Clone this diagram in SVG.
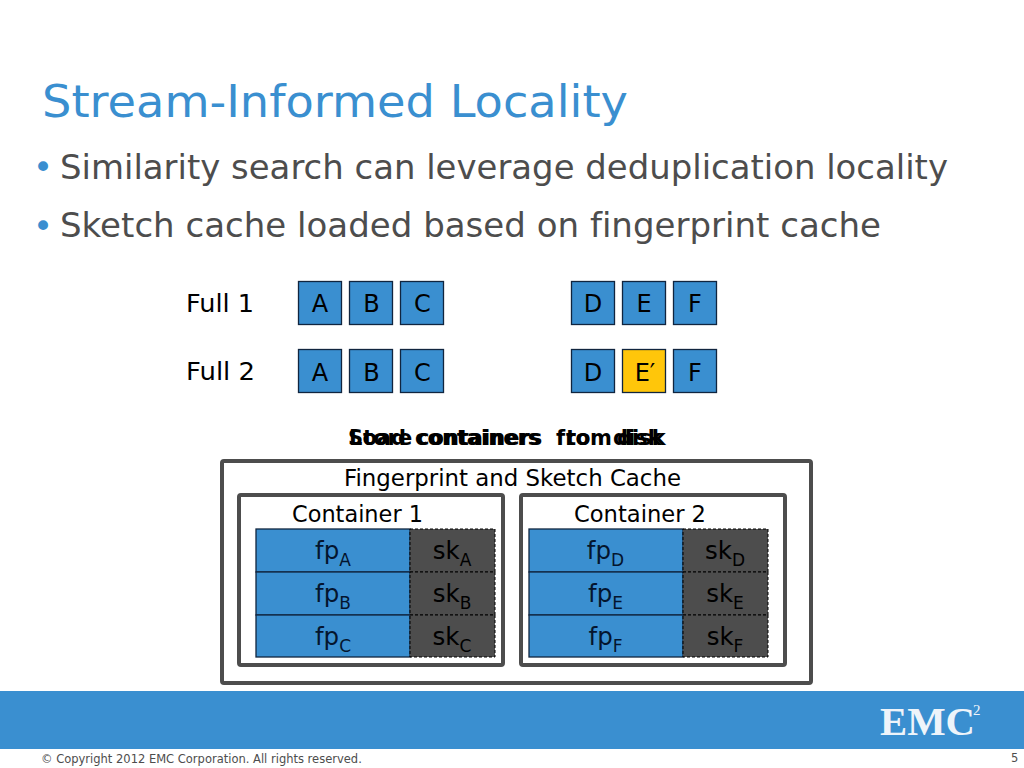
<svg xmlns="http://www.w3.org/2000/svg" width="1024" height="768" viewBox="0 0 1024 768">
<style>
text{font-family:"DejaVu Sans",Verdana,sans-serif;fill:#000;font-variant-ligatures:none}
.title{font-size:45px;fill:#3a8fd0}
.bullet{font-size:33.500px;fill:#4d4d4d}
.dot{font-size:34px;fill:#3a8fd0}
.lab{font-size:24px}
.box{fill:#3a8fd0;stroke:#10253f;stroke-width:1.3}
.y{fill:#ffc60a}
.t{font-size:24px;text-anchor:middle;fill:#000}
.tb{font-size:24.500px;text-anchor:middle;fill:#04152e}
.sub{font-size:17px}
.sk{fill:#4d4d4d;stroke:#000;stroke-width:1;stroke-dasharray:3 2}
.skt{font-size:24.500px;text-anchor:middle;fill:#000}
.outer{fill:#fff;stroke:#4d4d4d;stroke-width:4}
.heading{font-size:21px;font-weight:bold}
.cap{font-size:22.500px}
</style>
<rect width="1024" height="768" fill="#fff"/>
<text class="title" x="42" y="117" textLength="586" lengthAdjust="spacingAndGlyphs">Stream-Informed Locality</text>
<text class="dot" x="33" y="179">•</text>
<text class="bullet" x="60" y="178.500" textLength="888" lengthAdjust="spacingAndGlyphs">Similarity search can leverage deduplication locality</text>
<text class="dot" x="33" y="237.500">•</text>
<text class="bullet" x="60" y="237" textLength="821" lengthAdjust="spacingAndGlyphs">Sketch cache loaded based on fingerprint cache</text>
<g id="full1-label"><text class="lab" x="186" y="312" textLength="68" lengthAdjust="spacingAndGlyphs">Full 1</text></g>
<g id="full2-label"><text class="lab" x="186" y="380" textLength="69" lengthAdjust="spacingAndGlyphs">Full 2</text></g>
<g id="full1-A"><rect class="box" x="298.500" y="281.500" width="43" height="43"/><text class="t" x="320" y="312">A</text></g>
<g id="full1-B"><rect class="box" x="349.500" y="281.500" width="43" height="43"/><text class="t" x="371.500" y="312">B</text></g>
<g id="full1-C"><rect class="box" x="400.500" y="281.500" width="43" height="43"/><text class="t" x="422.500" y="312">C</text></g>
<g id="full1-D"><rect class="box" x="571.500" y="281.500" width="43" height="43"/><text class="t" x="593" y="312">D</text></g>
<g id="full1-E"><rect class="box" x="622.500" y="281.500" width="43" height="43"/><text class="t" x="644" y="312">E</text></g>
<g id="full1-F"><rect class="box" x="673.500" y="281.500" width="43" height="43"/><text class="t" x="695" y="312">F</text></g>
<g id="full2-A"><rect class="box" x="298.500" y="349.500" width="43" height="43"/><text class="t" x="320" y="381">A</text></g>
<g id="full2-B"><rect class="box" x="349.500" y="349.500" width="43" height="43"/><text class="t" x="371.500" y="381">B</text></g>
<g id="full2-C"><rect class="box" x="400.500" y="349.500" width="43" height="43"/><text class="t" x="422.500" y="381">C</text></g>
<g id="full2-D"><rect class="box" x="571.500" y="349.500" width="43" height="43"/><text class="t" x="593" y="381">D</text></g>
<g id="full2-E"><rect class="box y" x="622.500" y="349.500" width="43" height="43"/><text class="t" x="645" y="381">E′</text></g>
<g id="full2-F"><rect class="box" x="673.500" y="349.500" width="43" height="43"/><text class="t" x="695" y="381">F</text></g>
<g id="headings">
<text class="heading" y="445"><tspan x="349">Load </tspan><tspan x="417">containers </tspan><tspan x="556">from </tspan><tspan x="617">disk</tspan></text>
<text class="heading" y="445"><tspan x="348">Store </tspan><tspan x="415">containers </tspan><tspan x="566">to </tspan><tspan x="613">disk</tspan></text>
</g>
<g id="cache"><rect class="outer" x="222" y="461" width="589" height="222" rx="2"/><text class="cap" x="344" y="486" textLength="337" lengthAdjust="spacingAndGlyphs">Fingerprint and Sketch Cache</text></g>
<g id="container1">
<rect class="outer" x="239" y="495" width="264" height="170" rx="2"/>
<text class="cap" x="292" y="522" textLength="131" lengthAdjust="spacingAndGlyphs">Container 1</text>
<rect class="box" x="256" y="529" width="154" height="43"/><rect class="box" x="256" y="572" width="154" height="43"/><rect class="box" x="256" y="615" width="154" height="42"/>
<rect class="sk" x="410" y="529" width="85" height="43"/><rect class="sk" x="410" y="572" width="85" height="43"/><rect class="sk" x="410" y="615" width="85" height="42"/>
<text class="tb" x="333" y="559">fp<tspan class="sub" dy="7">A</tspan></text>
<text class="tb" x="333" y="602">fp<tspan class="sub" dy="7">B</tspan></text>
<text class="tb" x="333" y="645">fp<tspan class="sub" dy="7">C</tspan></text>
<text class="skt" x="452" y="559">sk<tspan class="sub" dy="7">A</tspan></text>
<text class="skt" x="452" y="602">sk<tspan class="sub" dy="7">B</tspan></text>
<text class="skt" x="452" y="645">sk<tspan class="sub" dy="7">C</tspan></text>
</g>
<g id="container2">
<rect class="outer" x="521" y="495" width="264" height="170" rx="2"/>
<text class="cap" x="574" y="522" textLength="132" lengthAdjust="spacingAndGlyphs">Container 2</text>
<rect class="box" x="529" y="529" width="154" height="43"/><rect class="box" x="529" y="572" width="154" height="43"/><rect class="box" x="529" y="615" width="154" height="42"/>
<rect class="sk" x="683" y="529" width="85" height="43"/><rect class="sk" x="683" y="572" width="85" height="43"/><rect class="sk" x="683" y="615" width="85" height="42"/>
<text class="tb" x="605.500" y="559">fp<tspan class="sub" dy="7">D</tspan></text>
<text class="tb" x="605.500" y="602">fp<tspan class="sub" dy="7">E</tspan></text>
<text class="tb" x="605.500" y="645">fp<tspan class="sub" dy="7">F</tspan></text>
<text class="skt" x="725" y="559">sk<tspan class="sub" dy="7">D</tspan></text>
<text class="skt" x="725" y="602">sk<tspan class="sub" dy="7">E</tspan></text>
<text class="skt" x="725" y="645">sk<tspan class="sub" dy="7">F</tspan></text>
</g>
<g id="connectors"></g>
<rect x="0" y="691" width="1024" height="58" fill="#3a8fd0"/>
<text x="880" y="735" style="font-family:'Liberation Serif',serif;font-size:39px;font-weight:bold;fill:#eef4fa" textLength="95" lengthAdjust="spacingAndGlyphs">EMC</text>
<text x="973" y="715" style="font-family:'Liberation Serif',serif;font-size:15px;fill:#eef4fa">2</text>
<text x="41" y="763" style="font-size:11.500px;fill:#4d4d4d">© Copyright 2012 EMC Corporation. All rights reserved.</text>
<text x="1011" y="762" style="font-size:11.500px;fill:#4d4d4d">5</text>
</svg>
